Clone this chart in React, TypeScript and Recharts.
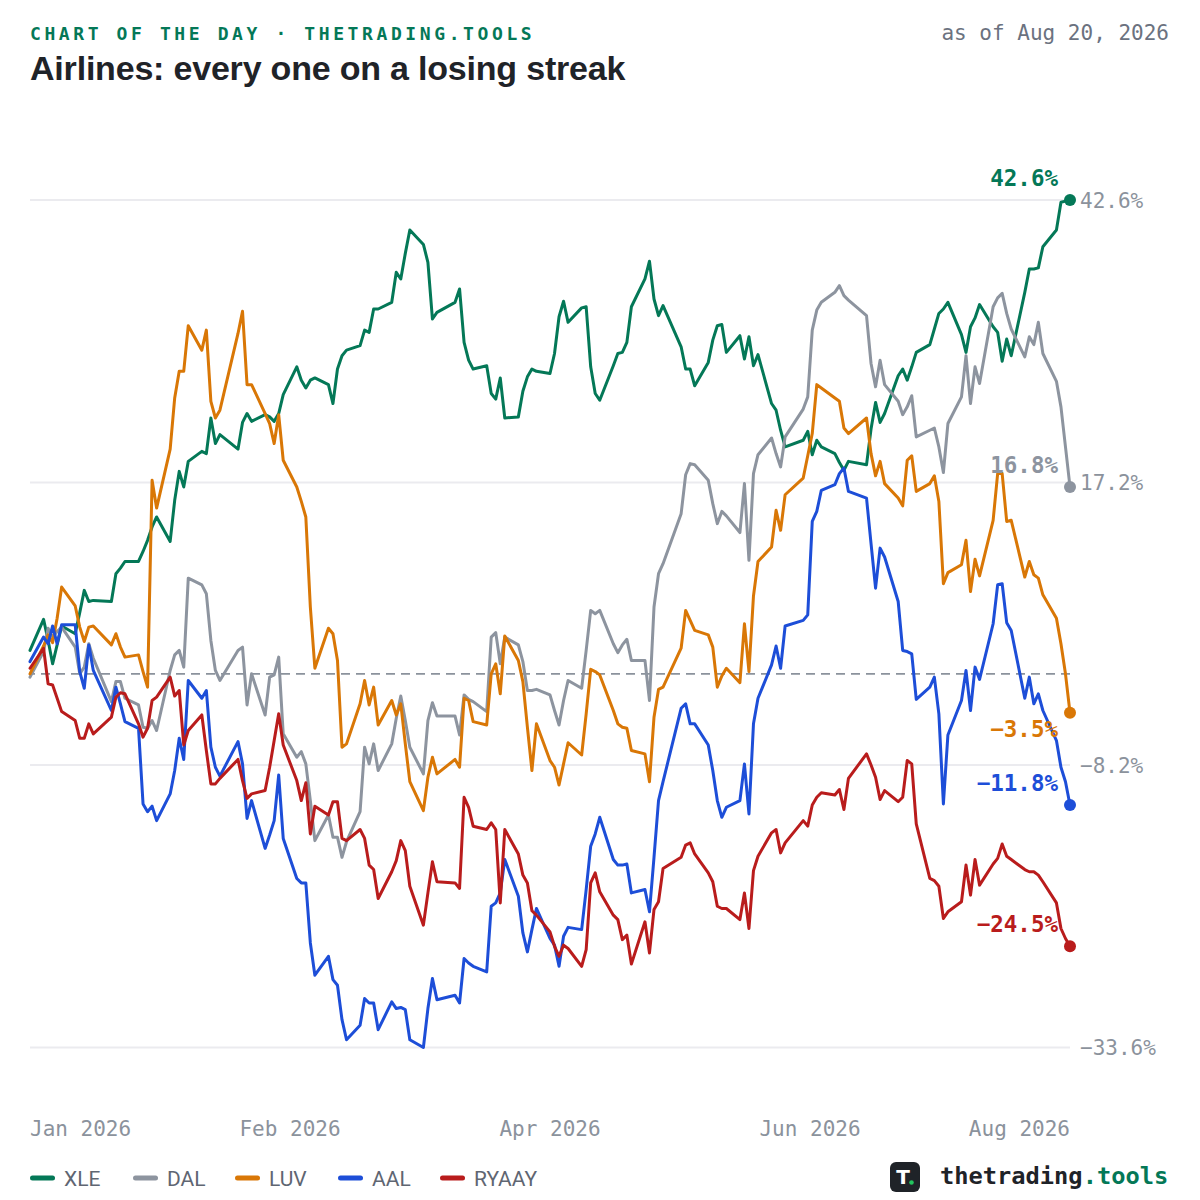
import React from "react";
import { LineChart, Line, XAxis, YAxis, CartesianGrid, ReferenceLine } from "recharts";

// ---------- calendar (trading days, Jan 2 – Aug 20, 2026) ----------
const START_DATE = "2026-01-02";
const END_DATE = "2026-08-20";
const HOLIDAYS = ["2026-01-19", "2026-02-16", "2026-04-03", "2026-05-25", "2026-06-19", "2026-07-03"];

// ---------- series values (% change since start) ----------
const XLE = [
  2.1, 4.9, 3.0, 0.9, 2.6, 4.3,
  3.6, 5.5, 7.5, 6.5, 6.6,
  6.5, 9.0, 9.5, 10.1,
  10.1, 11.0, 12.0, 13.2, 14.1,
  11.9, 15.6, 18.2, 16.8, 19.1,
  20.0, 19.8, 23.0, 20.7, 21.5,
  20.2, 22.6, 23.4, 22.7,
  23.3, 23.1, 22.7, 23.4, 25.1,
  27.6, 26.4, 25.7, 26.4, 26.6,
  26.0, 24.3, 27.4, 28.6, 29.1,
  29.5, 30.9, 30.7, 32.8, 32.8,
  33.4, 36.1, 35.5, 37.8, 39.9,
  38.6, 37.0, 31.9, 32.5,
  33.4, 34.6, 29.8, 28.2, 27.4,
  27.7, 25.2, 24.7, 26.6, 23.0,
  23.1, 25.4, 26.7, 27.4, 27.2,
  27.0, 28.8, 32.1, 33.5, 31.6,
  32.9, 33.0, 27.6, 25.2, 24.6,
  27.7, 28.8, 28.9, 29.8, 33.0,
  35.5, 37.1, 33.7, 32.2, 33.1,
  29.4, 27.4, 27.4, 25.9,
  28.0, 30.0, 31.3, 31.4, 28.9,
  30.4, 28.3, 30.3, 27.7, 28.7,
  24.3, 23.7, 21.9, 20.4,
  21.0, 21.8, 19.7, 21.0, 20.4,
  19.8, 19.0, 18.3, 19.1,
  18.8, 22.0, 24.4, 22.6, 23.4,
  26.8, 27.4, 26.4, 27.6, 28.9,
  29.6, 31.0, 32.4, 32.8, 33.4,
  30.5, 28.9, 31.2, 32.0, 33.2,
  31.2, 30.7, 28.1, 30.1, 28.6,
  34.3, 36.4, 36.4, 36.5, 38.4,
  39.9, 42.4, 42.5, 42.6,
];

const DAL = [
  -0.3, 2.0, 4.1, 3.3, 3.8, 4.2,
  2.4, 0.0, 0.6, 2.7, 1.4,
  -2.5, -0.7, -0.7, -2.2,
  -2.8, -4.8, -4.9, -4.2, -5.1,
  0.3, 1.7, 2.1, 0.6, 8.6,
  8.0, 7.2, 3.0, 0.3, -0.6,
  2.1, 2.4, -2.8, 0.0,
  -3.7, -0.3, -0.1, 1.5, -5.4,
  -7.5, -7.0, -8.1, -11.4, -15.0,
  -12.7, -14.7, -14.7, -16.5, -15.1,
  -12.4, -6.6, -8.1, -6.3, -8.7,
  -6.3, -4.0, -2.0, -4.2, -6.6,
  -9.0, -4.2, -2.6, -3.8,
  -3.8, -5.5, -1.9, -2.3, -2.5,
  -3.4, 3.3, 3.7, 0.9, 3.3,
  2.6, 1.1, -1.5, -1.5, -1.4,
  -1.9, -3.3, -4.6, -2.4, -0.6,
  -1.3, 2.1, 5.7, 5.4, 5.7,
  2.7, 1.9, 2.6, 3.1, 1.2,
  1.2, -2.4, 6.0, 9.0, 9.9,
  14.4, 17.9, 18.9, 18.8,
  17.4, 15.3, 13.5, 14.6, 14.2,
  12.7, 17.1, 10.2, 18.0, 19.7,
  21.2, 19.8, 18.6, 21.3,
  23.8, 24.9, 30.9, 32.7, 33.4,
  34.3, 34.9, 34.0, 33.6,
  32.2, 27.9, 25.8, 28.2, 26.0,
  24.5, 23.3, 24.0, 25.0, 21.3,
  21.9, 22.1, 20.4, 18.1, 22.5,
  24.9, 28.6, 24.3, 27.6, 26.1,
  33.0, 33.8, 34.2, 32.4, 31.0,
  28.5, 30.3, 29.6, 31.6, 28.8,
  26.3, 24.0, 20.4, 16.8,
];

const LUV = [
  0.0, 2.5, 3.5, 2.8, 5.0, 7.8,
  6.1, 4.2, 2.9, 4.2, 4.3,
  2.6, 3.6, 2.4, 1.5,
  1.7, 0.2, -1.2, 17.4, 14.9,
  20.2, 24.8, 27.2, 27.2, 31.3,
  29.1, 30.9, 24.5, 23.0, 23.7,
  30.6, 32.6, 26.0, 26.0,
  23.4, 22.5, 20.7, 23.3, 19.2,
  16.8, 15.5, 14.1, 6.0, 0.5,
  4.1, 3.6, 1.2, -6.6, -6.3,
  -2.7, -0.6, -2.8, -1.2, -4.6,
  -2.4, -3.7, -2.7, -6.3, -9.7,
  -12.3, -9.3, -7.5, -9.0,
  -7.7, -8.4, -2.2, -2.4, -4.3,
  -4.6, 0.0, 0.9, -1.8, 3.4,
  1.2, -0.7, -4.8, -8.7, -4.5,
  -7.8, -8.4, -10.0, -8.1, -6.2,
  -7.3, -3.6, 0.4, 0.2, -0.1,
  -3.3, -4.5, -4.8, -4.9, -6.9,
  -7.2, -9.7, -3.9, -1.4, -1.2,
  2.3, 5.7, 4.8, 3.9,
  3.5, 2.4, -1.2, -0.2, 0.5,
  -0.8, 4.5, 0.2, 7.0, 10.1,
  11.4, 14.7, 12.9, 16.1,
  17.6, 19.6, 21.6, 26.0, 25.7,
  24.8, 24.5, 22.1, 21.6,
  23.0, 19.8, 17.8, 19.1, 17.1,
  15.8, 15.1, 19.2, 19.6, 16.4,
  17.1, 17.8, 15.5, 8.1, 9.1,
  9.8, 12.0, 7.4, 10.3, 8.8,
  13.8, 18.0, 18.0, 13.7, 13.8,
  8.7, 10.1, 8.9, 8.6, 7.1,
  5.0, 2.7, 0.0, -3.5,
];

const AAL = [
  1.1, 3.3, 2.7, 4.3, 2.7, 4.4,
  4.4, 0.2, -1.3, 2.6, 0.3,
  -3.3, -1.2, -2.7, -4.3,
  -4.9, -11.7, -12.4, -11.9, -13.2,
  -10.8, -8.7, -5.8, -7.7, -0.6,
  -2.2, -1.5, -6.6, -8.4, -9.2,
  -6.1, -8.1, -13.0, -11.4,
  -15.7, -14.5, -13.2, -9.1, -14.8,
  -18.4, -18.8, -18.8, -24.2, -27.1,
  -25.4, -27.5, -28.0, -31.1, -32.9,
  -31.6, -29.2, -29.6, -29.6, -32.0,
  -29.5, -30.1, -30.0, -30.2, -32.9,
  -33.6, -30.1, -27.4, -29.3,
  -28.9, -29.6, -25.6, -26.0, -26.3,
  -26.8, -20.9, -20.6, -19.7, -16.7,
  -20.0, -23.3, -25.0, -23.0, -21.1,
  -23.8, -24.4, -26.3, -23.6, -22.8,
  -23.0, -19.4, -15.5, -14.4, -12.9,
  -16.7, -17.2, -17.2, -17.1, -19.7,
  -19.4, -21.4, -16.5, -11.4, -9.7,
  -3.1, -2.7, -4.5, -4.5,
  -6.4, -8.7, -11.4, -12.9, -12.0,
  -11.4, -8.1, -12.6, -4.5, -2.2,
  0.8, 2.5, 0.5, 4.3,
  4.8, 5.3, 13.7, 14.6, 16.5,
  17.0, 18.0, 18.5, 16.4,
  15.8, 11.7, 7.7, 11.3, 10.5,
  6.5, 2.1, 2.0, 1.8, -2.3,
  -1.2, -0.3, -3.6, -11.7, -5.5,
  -2.4, 0.3, -3.3, 0.6, -0.5,
  4.5, 8.0, 8.1, 4.6, 3.9,
  -2.2, -0.3, -2.7, -1.8, -3.3,
  -6.0, -8.4, -9.7, -11.8,
];

const RYAAY = [
  0.5, 2.3, -0.9, -1.0, -2.2, -3.4,
  -4.2, -5.8, -5.8, -4.5, -5.4,
  -3.9, -2.1, -1.7, -1.8,
  -4.5, -5.7, -4.9, -2.4, -2.1,
  -0.3, -2.0, -1.5, -6.4, -5.1,
  -3.7, -6.9, -9.9, -9.9, -9.4,
  -7.7, -9.6, -11.2, -10.8,
  -10.5, -8.4, -6.0, -3.6, -6.4,
  -9.6, -11.4, -9.8, -14.4, -11.9,
  -12.7, -11.5, -11.5, -14.8, -15.0,
  -14.0, -14.8, -17.2, -17.6, -20.2,
  -17.8, -16.8, -15.0, -15.9, -19.1,
  -22.6, -19.7, -16.9, -18.7,
  -18.8, -19.3, -11.1, -12.0, -13.7,
  -14.0, -13.4, -14.0, -20.6, -14.0,
  -16.2, -18.1, -18.8, -21.3, -21.7,
  -23.2, -24.5, -25.4, -24.4, -24.7,
  -26.3, -24.8, -18.8, -17.9, -19.6,
  -21.7, -22.1, -23.9, -23.5, -26.1,
  -22.3, -25.1, -21.2, -20.5, -17.5,
  -16.5, -15.4, -15.2, -16.2,
  -17.9, -18.7, -20.9, -21.1, -21.1,
  -22.1, -19.7, -22.9, -17.7, -16.4,
  -14.3, -14.0, -16.1, -15.2,
  -13.2, -13.7, -11.8, -11.1, -10.7,
  -10.9, -10.4, -12.2, -9.4,
  -7.2, -8.2, -9.3, -11.3, -10.5,
  -11.5, -11.1, -7.8, -8.1, -13.5,
  -18.4, -18.6, -19.1, -22.0, -21.4,
  -20.5, -17.2, -19.9, -16.7, -19.0,
  -17.1, -16.6, -15.3, -16.4, -16.7,
  -17.6, -17.8, -17.8, -18.1, -18.7,
  -20.6, -22.9, -23.8, -24.5,
];

// ---------- axis ticks ----------
const X_TICKS = [0, 57.5, 115, 172.5, 230]; // days since start
const X_TICK_LABELS = ["Jan 2026", "Feb 2026", "Apr 2026", "Jun 2026", "Aug 2026"];
const Y_TICKS = [42.6, 17.2, -8.2, -33.6];
const Y_DOMAIN = [-33.6, 42.6];

// ---------- text ----------
const KICKER = "CHART OF THE DAY · THETRADING.TOOLS";
const AS_OF = "as of Aug 20, 2026";
const TITLE = "Airlines: every one on a losing streak";

// ---------- series config (styles) ----------
const SERIES = [
  { key: "XLE", values: XLE, color: "#047857", labelColor: "#047857", labelDy: -14 },
  { key: "DAL", values: DAL, color: "#8d949f", labelColor: "#8d949f", labelDy: -14 },
  { key: "LUV", values: LUV, color: "#d97706", labelColor: "#d97706", labelDy: 24 },
  { key: "AAL", values: AAL, color: "#1d4ed8", labelColor: "#1d4ed8", labelDy: -14 },
  { key: "RYAAY", values: RYAAY, color: "#b91c1c", labelColor: "#b91c1c", labelDy: -14 },
];
const LEGEND_X = [30, 133, 235, 338, 440];

const MONO = "'DejaVu Sans Mono', monospace";
const DAY_MS = 86400000;

function buildDays(): number[] {
  const start = Date.parse(START_DATE + "T00:00:00Z");
  const end = Date.parse(END_DATE + "T00:00:00Z");
  const out: number[] = [];
  for (let t = start; t <= end; t += DAY_MS) {
    const dt = new Date(t);
    const dow = dt.getUTCDay();
    if (dow === 0 || dow === 6) continue;
    if (HOLIDAYS.includes(dt.toISOString().slice(0, 10))) continue;
    out.push(Math.round((t - start) / DAY_MS));
  }
  return out;
}

const DAYS = buildDays();
const N = DAYS.length;
const DATA = DAYS.map((d, i) => {
  const row: any = { d };
  SERIES.forEach((s) => {
    row[s.key] = s.values[i];
  });
  return row;
});

const fmtPct = (v: number) => (v < 0 ? "\u2212" + Math.abs(v).toFixed(1) : v.toFixed(1)) + "%";

const XTick = (props: any) => {
  const { x, y, payload } = props;
  const i = X_TICKS.indexOf(payload.value);
  const anchor = i === 0 ? "start" : i === X_TICKS.length - 1 ? "end" : "middle";
  return (
    <text x={x} y={y + 88} textAnchor={anchor} fontFamily={MONO} fontSize={21} fill="#8b929c">
      {X_TICK_LABELS[i]}
    </text>
  );
};

const YTick = (props: any) => {
  const { x, y, payload } = props;
  return (
    <text x={x} y={y} dy="0.36em" textAnchor="start" fontFamily={MONO} fontSize={21} fill="#8b929c">
      {fmtPct(payload.value)}
    </text>
  );
};

const makeEndDot = (s: any) => (props: any) => {
  const { cx, cy, index } = props;
  if (index !== N - 1 || cx == null || cy == null) return <g key={`${s.key}-dot-${index}`} />;
  return (
    <g key={`${s.key}-dot-${index}`}>
      <text
        x={cx - 12}
        y={cy + s.labelDy}
        textAnchor="end"
        fontFamily={MONO}
        fontWeight={700}
        fontSize={22.5}
        fill={s.labelColor}
      >
        {fmtPct(s.values[N - 1])}
      </text>
      <circle cx={cx} cy={cy} r={6} fill={s.color} />
    </g>
  );
};

export default function App() {
  return (
    <div style={{ position: "absolute", left: 0, top: 0, width: 1200, height: 1200, background: "#ffffff", overflow: "hidden" }}>
      <LineChart width={1200} height={1200} data={DATA} margin={{ top: 200, right: 0, bottom: 0, left: 30 }}>
        <CartesianGrid vertical={false} horizontal={true} stroke="#ebebef" strokeWidth={2} />
        <XAxis
          dataKey="d"
          type="number"
          domain={[X_TICKS[0], X_TICKS[X_TICKS.length - 1]]}
          ticks={X_TICKS}
          interval={0}
          tickLine={false}
          axisLine={false}
          tickSize={0}
          tickMargin={0}
          height={152.5}
          tick={<XTick />}
        />
        <YAxis
          orientation="right"
          type="number"
          domain={Y_DOMAIN}
          ticks={Y_TICKS}
          interval={0}
          tickLine={false}
          axisLine={false}
          tickSize={0}
          tickMargin={10}
          width={130}
          tick={<YTick />}
        />
        <ReferenceLine y={0} stroke="#8b929c" strokeWidth={1.8} strokeDasharray="9 6" />
        {SERIES.map((s) => (
          <Line
            key={s.key}
            type="linear"
            dataKey={s.key}
            stroke={s.color}
            strokeWidth={3}
            strokeLinejoin="round"
            strokeLinecap="round"
            dot={makeEndDot(s)}
            activeDot={false}
            isAnimationActive={false}
          />
        ))}
      </LineChart>

      <svg
        width={1200}
        height={1200}
        style={{ position: "absolute", left: 0, top: 0, pointerEvents: "none" }}
      >
        <text x={30} y={40} fontFamily={MONO} fontWeight={700} fontSize={18} letterSpacing={3.6} fill="#047857">
          {KICKER}
        </text>
        <text x={1169} y={40} textAnchor="end" fontFamily={MONO} fontSize={21} fill="#6b7280">
          {AS_OF}
        </text>
        <text
          x={30}
          y={80}
          fontFamily="'Liberation Sans', Arial, sans-serif"
          fontWeight={700}
          fontSize={34}
          letterSpacing={-0.2}
          fill="#1f2328"
        >
          {TITLE}
        </text>

        {SERIES.map((s, i) => (
          <g key={s.key}>
            <line
              x1={LEGEND_X[i] + 2.5}
              x2={LEGEND_X[i] + 22.5}
              y1={1178}
              y2={1178}
              stroke={s.color}
              strokeWidth={5}
              strokeLinecap="round"
            />
            <text x={LEGEND_X[i] + 34} y={1185.5} fontFamily="Roboto, sans-serif" fontSize={21} fill="#5f6672">
              {s.key}
            </text>
          </g>
        ))}

        <rect x={890} y={1162} width={30} height={30} rx={6} fill="#1f2328" />
        <text x={903} y={1184} textAnchor="middle" fontFamily="'DejaVu Sans', sans-serif" fontWeight={700} fontSize={20} fill="#ffffff">
          T
        </text>
        <circle cx={911.5} cy={1182.5} r={2.3} fill="#22c55e" />
        <text x={940} y={1183.5} fontFamily={MONO} fontWeight={700} fontSize={23.7} fill="#1f2328">
          thetrading<tspan fill="#047857">.tools</tspan>
        </text>
      </svg>
    </div>
  );
}
